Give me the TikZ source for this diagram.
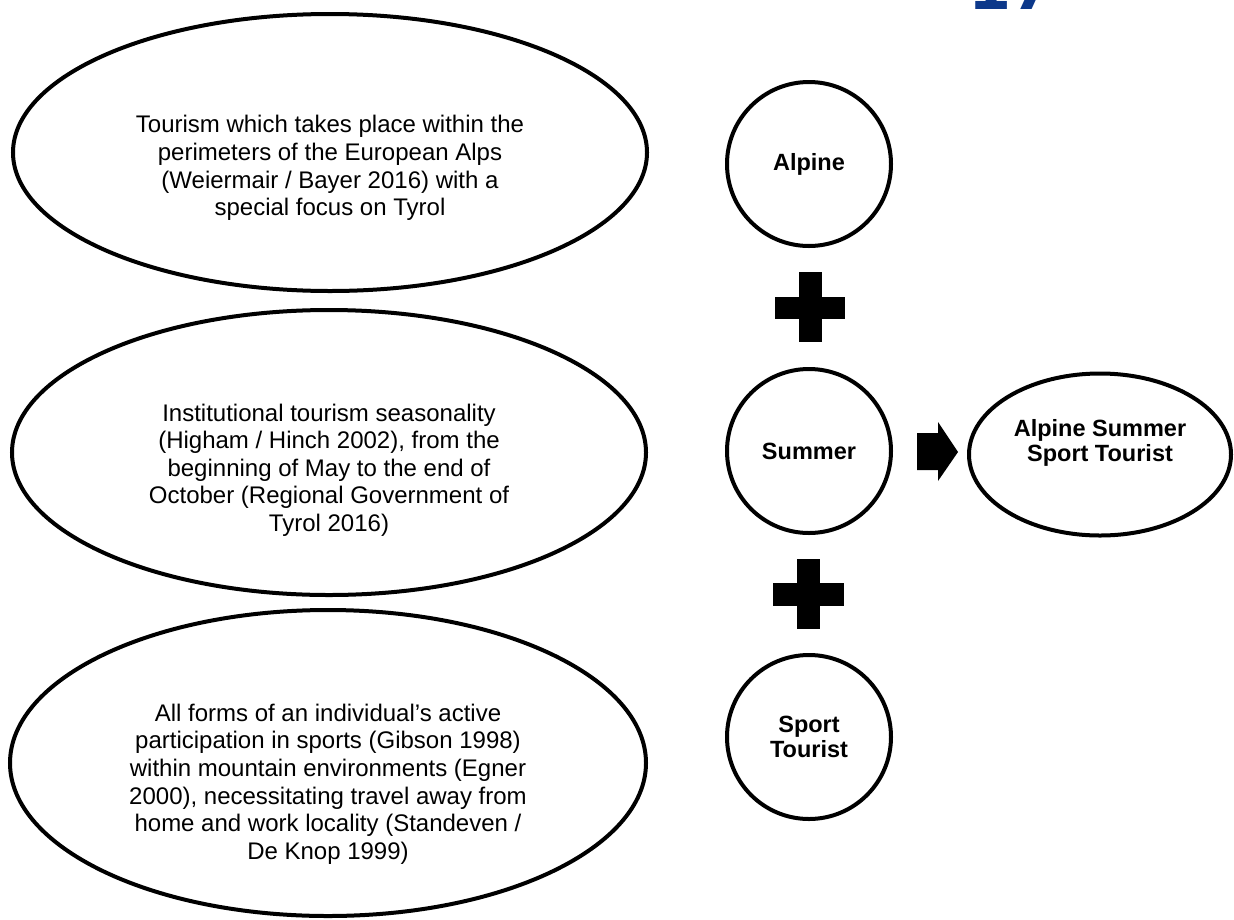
\documentclass[tikz,border=0pt]{standalone}
\usepackage{fontspec}
\setmainfont{Liberation Sans}
\newfontfamily\numfont{DejaVu Sans}
\usetikzlibrary{shapes.geometric}
\definecolor{pgblue}{RGB}{12,56,138}
\begin{document}
\begin{tikzpicture}[x=1pt,y=-1pt,
  oval/.style={draw=black,line width=4pt,ellipse,inner sep=0pt},
  ring/.style={draw=black,line width=4pt,circle,inner sep=0pt,minimum size=164pt,
    font=\bfseries\fontsize{23.5}{25}\selectfont,align=center},
  desc/.style={align=center,inner sep=0pt,font=\fontsize{24}{27.6}\selectfont},
  solidsign/.style={fill=black}]
\useasboundingbox (0,0) rectangle (1234,919);
\clip (0,0) rectangle (1234,919);
% page number fragment
\node[anchor=base west,inner sep=0pt,text=pgblue,font=\numfont\bfseries\fontsize{62}{62}\selectfont] (pnum) at (968,9) {17};
% left ellipses
\node[oval,minimum width=634pt,minimum height=277pt] (e1) at (330,152.5) {};
\node[desc] (t1) at (330,168) {Tourism which takes place within the\\perimeters of the European Alps\\(Weiermair / Bayer 2016) with a\\special focus on Tyrol};
\node[oval,minimum width=634pt,minimum height=285pt] (e2) at (329,452.5) {};
\node[desc] (t2) at (329,470) {Institutional tourism seasonality\\(Higham / Hinch 2002), from the\\beginning of May to the end of\\October (Regional Government of\\Tyrol 2016)};
\node[oval,minimum width=636pt,minimum height=306pt] (e3) at (328,763) {};
\node[desc] (t3) at (328,784) {All forms of an individual’s active\\participation in sports (Gibson 1998)\\within mountain environments (Egner\\2000), necessitating travel away from\\home and work locality (Standeven /\\De Knop 1999)};
% circles
\node[ring] (alp) at (809,164) {Alpine};
\node[ring] (sum) at (809,451) {Summer};
\node[ring] (spt) at (809,737) {Sport\\Tourist};
% result
\node[oval,minimum width=262pt,minimum height=162pt,font=\bfseries\fontsize{23.5}{25}\selectfont,align=center] (res) at (1100,454.5) {Alpine Summer\\Sport Tourist\\[4pt]};
% plus signs
\fill[solidsign] (799,272) rectangle (822,342);
\fill[solidsign] (775,297) rectangle (845,319);
\fill[solidsign] (797,559) rectangle (820,629);
\fill[solidsign] (773,583) rectangle (844,606);
% arrow
\fill[solidsign] (917,433) -- (938,433) -- (938,422) -- (958,452) -- (938,481) -- (938,470) -- (917,470) -- cycle;
\end{tikzpicture}
\end{document}
